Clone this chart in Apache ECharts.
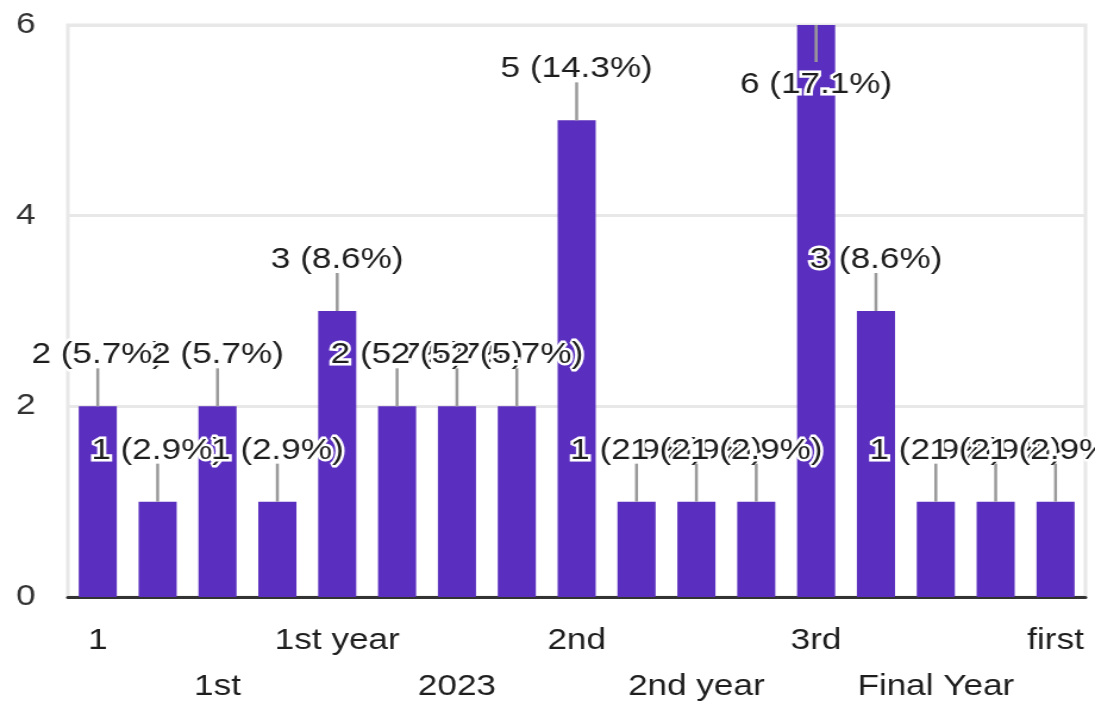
<!DOCTYPE html>
<html>
<head>
<meta charset="utf-8">
<script src="https://cdn.jsdelivr.net/npm/echarts@6/dist/echarts.min.js"></script>
<style>
  html, body { margin: 0; padding: 0; background: #fff; overflow: hidden; }
  /* the chart is laid out narrower and stretched horizontally to the page width */
  #wrap { width: 1095px; height: 706px; overflow: hidden; }
  #chart { width: 920px; height: 706px; transform: scaleX(1.1902); transform-origin: 0 0; }
</style>
</head>
<body>
<div id="wrap"><div id="chart"></div></div>
<script>
// Answers (only every other name is printed on the axis)
const categories = ['1', '', '1st', '', '1st year', '', '2023', '', '2nd', '',
                    '2nd year', '', '3rd', '', 'Final Year', '', 'first'];
// Number of responses per answer
const counts = [2, 1, 2, 1, 3, 2, 2, 2, 5, 1, 1, 1, 6, 3, 1, 1, 1];
// Value axis ticks
const yTicks = [0, 2, 4, 6];

const total = counts.reduce((a, b) => a + b, 0);
const FONT = "'Liberation Sans', Arial, sans-serif";
const BAR = '#5a2ebe';
const INK = '#1e1e1e';

const chart = echarts.init(document.getElementById('chart'), null, { renderer: 'canvas' });

chart.setOption({
  backgroundColor: '#ffffff',
  animation: false,
  grid: {
    left: 57, right: 8, top: 25, bottom: 109,
    outerBoundsMode: 'none',
    containLabel: false,
    show: true, borderColor: '#e8e8e8', borderWidth: 3
  },
  xAxis: {
    type: 'category',
    data: categories,
    axisLine: { show: true, lineStyle: { color: '#333333', width: 3 } },
    axisTick: { show: false },
    axisLabel: {
      interval: 0,
      margin: 21,
      fontSize: 29.5,
      lineHeight: 46,
      fontFamily: FONT,
      color: INK,
      formatter: (val, idx) => (idx % 4 === 2 ? '\n' + val : val)
    }
  },
  yAxis: {
    type: 'value',
    min: yTicks[0],
    max: yTicks[yTicks.length - 1],
    interval: yTicks[1] - yTicks[0],
    axisLine: { show: false },
    axisTick: { show: false },
    splitLine: { lineStyle: { color: '#e8e8e8', width: 3 } },
    axisLabel: { margin: 27, fontSize: 29.5, fontFamily: FONT, color: '#333333' }
  },
  series: [
    {
      type: 'bar',
      data: counts,
      barWidth: 32,
      itemStyle: { color: BAR },
      z: 2
    },
    {
      // value annotations: leader line plus "n (pct%)" with a white halo
      type: 'custom',
      data: counts.map((v, i) => [i, v]),
      z: 5,
      clip: false,
      renderItem: (params, api) => {
        const i = api.value(0);
        const v = api.value(1);
        const p = api.coord([i, v]);
        const top = params.coordSys.y;
        const flip = p[1] - 51 - 16 < top;
        const lineEnd = flip ? p[1] + 37 : p[1] - 38;
        const textY = flip ? p[1] + 60 : p[1] - 51;
        const pct = (v / total * 100).toFixed(1);
        return {
          type: 'group',
          children: [
            {
              type: 'line',
              shape: { x1: p[0], y1: p[1], x2: p[0], y2: lineEnd },
              style: { stroke: '#9a9a9a', lineWidth: 2.5 }
            },
            {
              type: 'text',
              style: {
                text: v + ' (' + pct + '%)',
                x: p[0], y: textY,
                align: 'center', verticalAlign: 'middle',
                font: '29.5px ' + FONT,
                fill: INK,
                stroke: '#ffffff',
                lineWidth: 5
              }
            }
          ]
        };
      }
    }
  ]
});
</script>
</body>
</html>
